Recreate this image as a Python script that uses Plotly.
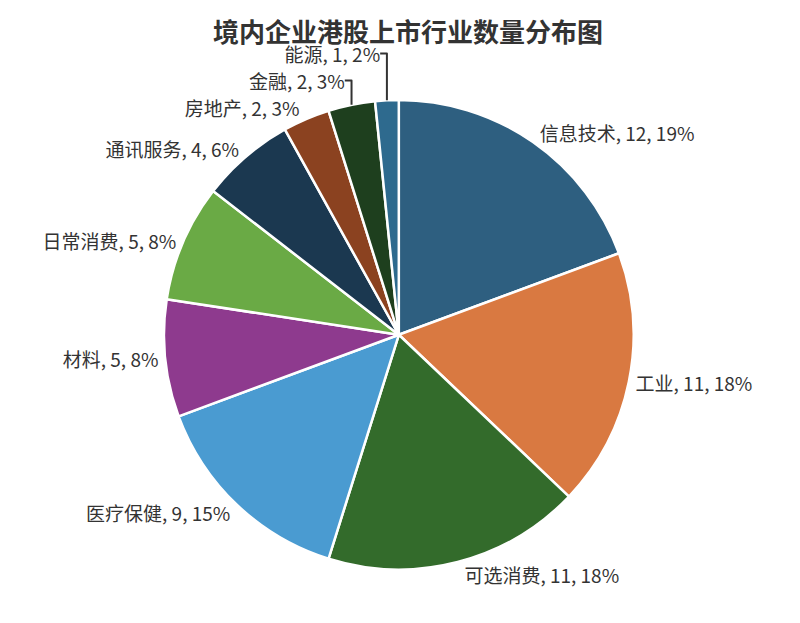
import plotly.graph_objects as go

labels = ["信息技术", "工业", "可选消费", "医疗保健", "材料", "日常消费", "通讯服务", "房地产", "金融", "能源"]
values = [12, 11, 11, 9, 5, 5, 4, 2, 2, 1]
colors = ["#2E5F80", "#D97941", "#336B2B", "#4A9BD1", "#8E3A8E",
          "#6AAA45", "#1B3850", "#8B4220", "#1E3F1E", "#2E6A8E"]

fig = go.Figure(go.Pie(
    labels=labels,
    values=values,
    sort=False,
    direction="clockwise",
    rotation=0,
    marker=dict(colors=colors, line=dict(color="white", width=2.5)),
    textposition="outside",
    texttemplate="%{label}, %{value}, %{percent:.0%}",
    textfont=dict(size=19, color="#333333", family="Liberation Sans Narrow, Noto Sans CJK SC"),
    outsidetextfont=dict(size=19, color="#333333"),
    domain=dict(x=[0.195, 0.782], y=[0.098, 0.853]),
    showlegend=False,
))

fig.update_layout(
    width=800, height=623,
    margin=dict(l=0, r=0, t=0, b=0),
    paper_bgcolor="white",
    font=dict(family="Liberation Sans Narrow, Noto Sans CJK SC"),
    title=dict(text="<b>境内企业港股上市行业数量分布图</b>", x=0.5, y=0.975,
               xanchor="center", font=dict(size=26, color="#333333",
                                            family="Noto Sans CJK SC")),
)

fig.write_html("out.html")
